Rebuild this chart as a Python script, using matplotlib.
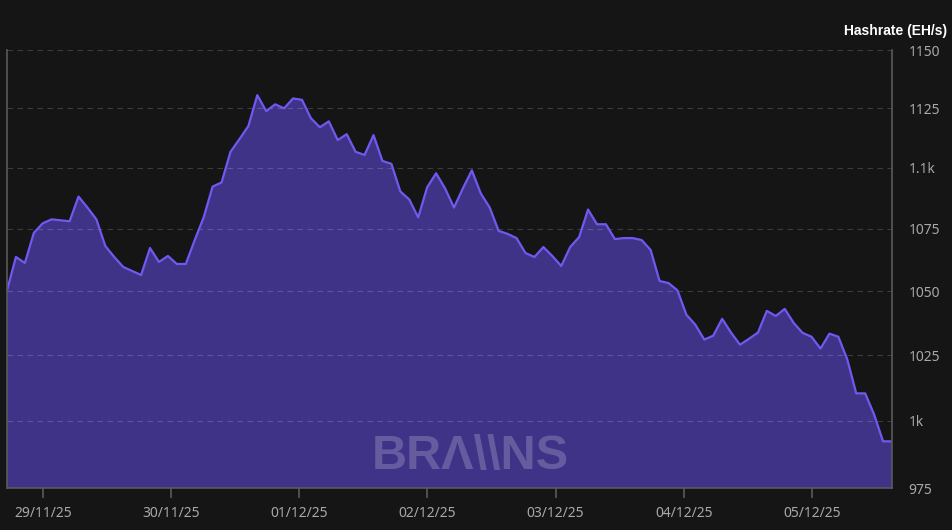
import matplotlib
matplotlib.use("Agg")
import matplotlib.pyplot as plt
import matplotlib.dates as mdates
import matplotlib.ticker as mticker
import pandas as pd

plt.rcParams["font.family"] = ["Noto Sans", "DejaVu Sans"]

# Data (hashrate, EH/s)
start = "2025-11-28 17:15"
end = "2025-12-05 15:00"
hashrate = [
    1050.4, 1063.7, 1061.3, 1073.4, 1077.3, 1078.9, 1078.5, 1078.1, 1088.2, 1083.7,
    1078.9, 1068.1, 1063.7, 1059.7, 1058.1, 1056.5, 1067.3, 1061.7, 1064.1, 1060.9,
    1060.9, 1070.5, 1079.7, 1092.3, 1094.0, 1106.7, 1112.0, 1117.5, 1130.6, 1123.8,
    1126.7, 1125.0, 1129.2, 1128.6, 1120.8, 1117.0, 1119.5, 1111.6, 1114.1, 1106.7,
    1105.4, 1113.7, 1102.9, 1101.7, 1090.3, 1087.0, 1079.7, 1092.0, 1097.8, 1091.6,
    1083.7, 1091.6, 1099.0, 1089.5, 1083.7, 1074.2, 1073.0, 1071.3, 1065.3, 1063.7,
    1067.7, 1064.1, 1060.1, 1067.7, 1071.7, 1082.9, 1076.9, 1076.9, 1070.9, 1071.3,
    1071.3, 1070.5, 1066.5, 1054.1, 1053.3, 1050.4, 1040.8, 1036.9, 1031.1, 1032.6,
    1039.2, 1033.8, 1029.1, 1031.4, 1033.8, 1042.3, 1040.3, 1043.1, 1037.6, 1033.7,
    1032.2, 1027.6, 1033.4, 1032.2, 1023.4, 1010.4, 1010.4, 1002.4, 992.3, 992.3,
]
times = pd.date_range(start, end, periods=len(hashrate))

y_ticks = [975, 1000, 1025, 1050, 1075, 1100, 1125, 1150]
y_labels = ["975", "1k", "1025", "1050", "1075", "1.1k", "1125", "1150"]
x_ticks = pd.date_range("2025-11-29", "2025-12-05", freq="D")

# Colours
bg = "#151515"
fill_c = "#3f3387"
line_c = "#7059f0"
axis_c = "#5a5a5a"
text_c = "#a8a8a8"

fig = plt.figure(figsize=(9.52, 5.30), dpi=100, facecolor=bg)
ax = fig.add_axes([7 / 952, 1 - 488 / 530, 885 / 952, 438 / 530])
ax.set_facecolor(bg)

ax.fill_between(times, hashrate, 900, color=fill_c, lw=0, zorder=1)
ax.plot(times, hashrate, color=line_c, lw=1.6, zorder=3)

ax.set_yscale("log")
ax.set_ylim(975, 1150)
ax.set_xlim(times[0], times[-1])

ax.yaxis.set_major_locator(mticker.FixedLocator(y_ticks))
ax.yaxis.set_major_formatter(mticker.FixedFormatter(y_labels))
ax.yaxis.set_minor_locator(mticker.NullLocator())
ax.yaxis.tick_right()
ax.tick_params(axis="y", length=0, pad=12, labelcolor=text_c, labelsize=10)

ax.set_xticks(x_ticks)
ax.xaxis.set_major_formatter(mdates.DateFormatter("%d/%m/%y"))
ax.tick_params(axis="x", length=7, width=1.2, color=axis_c, pad=6,
               labelcolor=text_c, labelsize=10)

ax.set_axisbelow(False)
ax.grid(axis="y", color="white", alpha=0.17, ls=(0, (5, 4)), lw=0.8)

for side in ["left", "right", "bottom"]:
    ax.spines[side].set_color(axis_c)
    ax.spines[side].set_linewidth(1.2)
    ax.spines[side].set_zorder(4)
ax.spines["top"].set_visible(False)

fig.text(947 / 952, 1 - 31 / 530, "Hashrate (EH/s)", color="white",
         fontsize=10, fontweight="bold", ha="right", va="center",
         family=["Liberation Sans", "DejaVu Sans"])

# Watermark
ax.text(0.523, 0.072, "BRΛ\\\\NS", transform=ax.transAxes, ha="center",
        va="center", fontsize=35, fontweight="bold", color="white",
        alpha=0.2, zorder=2, family=["Liberation Sans", "DejaVu Sans"])

fig.savefig("out.png", dpi=100, facecolor=bg)
